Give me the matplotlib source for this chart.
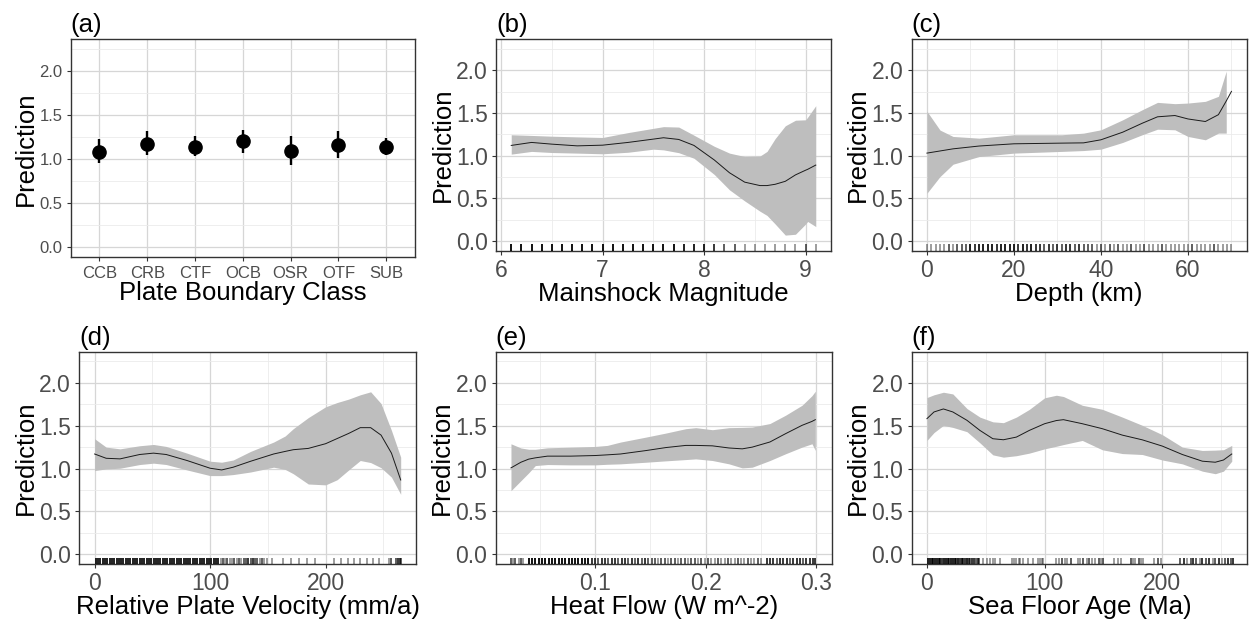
import numpy as np
import matplotlib
matplotlib.use('Agg')
import matplotlib.pyplot as plt

plt.rcParams['font.family'] = ['Liberation Sans', 'DejaVu Sans']

# ---------------- data ----------------
# (a) Plate boundary class
a_cats = ['CCB', 'CRB', 'CTF', 'OCB', 'OSR', 'OTF', 'SUB']
a_mid = [1.085, 1.172, 1.142, 1.206, 1.096, 1.161, 1.142]
a_lo = [0.96, 1.044, 1.036, 1.074, 0.934, 1.01, 1.044]
a_hi = [1.225, 1.32, 1.263, 1.338, 1.263, 1.32, 1.244]

# (b) Mainshock magnitude
b_x = [6.1, 6.3, 6.5, 6.75, 7.0, 7.25, 7.5, 7.6, 7.75, 7.9, 8.1, 8.25, 8.4, 8.55, 8.62, 8.7, 8.8, 8.9, 9.0, 9.02, 9.1]
b_fit = [1.12, 1.155, 1.135, 1.115, 1.123, 1.155, 1.194, 1.21, 1.19, 1.12, 0.95, 0.80, 0.69, 0.65, 0.65, 0.665, 0.70, 0.775, 0.83, 0.84, 0.89]
b_up = [1.245, 1.237, 1.228, 1.22, 1.213, 1.27, 1.32, 1.34, 1.335, 1.24, 1.11, 1.03, 0.99, 0.995, 1.05, 1.20, 1.35, 1.415, 1.42, 1.45, 1.585]
b_lo = [1.018, 1.05, 1.037, 1.03, 1.022, 1.04, 1.076, 1.068, 1.035, 0.97, 0.78, 0.60, 0.47, 0.35, 0.30, 0.20, 0.07, 0.08, 0.20, 0.23, 0.17]
rug_b_vals = [6.1, 6.2, 6.3, 6.4, 6.5, 6.6, 6.7, 6.8, 6.9, 7.0, 7.1, 7.2, 7.3, 7.4, 7.5, 7.6,
              7.7, 7.8, 7.9, 8.0, 8.1, 8.2, 8.3, 8.4, 8.5, 8.6, 8.7, 8.8, 8.9, 9.0, 9.1]
rug_b_counts = [5, 5, 5, 5, 5, 5, 5, 5, 5, 5, 5, 5, 5, 5, 5, 5,
                5, 4, 4, 4, 3, 2, 2, 1, 1, 1, 1, 1, 1, 2, 1]

# (c) Depth
c_x = [0, 3, 6, 12, 20, 31, 36, 40, 45, 49.5, 53, 57, 60, 64, 67, 68.8, 70]
c_fit = [1.03, 1.055, 1.08, 1.113, 1.139, 1.147, 1.15, 1.186, 1.275, 1.38, 1.455, 1.47, 1.43, 1.40, 1.48, 1.64, 1.753]
c_up = [1.52, 1.30, 1.225, 1.205, 1.245, 1.245, 1.264, 1.303, 1.42, 1.538, 1.624, 1.609, 1.616, 1.636, 1.695, 1.99]
c_lo = [0.56, 0.755, 0.90, 0.99, 1.03, 1.05, 1.06, 1.076, 1.155, 1.245, 1.31, 1.303, 1.225, 1.186, 1.264, 1.264]
rug_c_vals = [0, 1, 2, 3, 4, 5, 6, 7, 8, 9, 10, 11, 12, 13, 14, 15, 16, 17, 18, 19, 20,
              21, 22, 23, 24, 25, 26, 27, 28, 29, 30, 31, 32, 33, 34, 35, 36, 37, 38, 39, 40,
              41, 42, 43, 44, 45, 46, 47, 48, 49, 50, 51, 52, 53, 54, 55, 56, 57, 58, 59, 60,
              61, 62, 63, 64, 65, 66, 67, 68, 69, 70]
rug_c_counts = [1, 1, 1, 1, 1, 2, 1, 2, 2, 2, 4, 3, 4, 4, 4, 4, 3, 4, 4, 4, 4,
                3, 4, 3, 4, 3, 3, 2, 3, 2, 3, 2, 3, 3, 2, 3, 2, 2, 2, 1, 2,
                1, 2, 1, 2, 1, 1, 2, 1, 1, 2, 1, 1, 1, 2, 1, 1, 1, 1, 1, 1,
                2, 1, 1, 1, 1, 2, 1, 1, 1, 1]

# (d) Relative plate velocity
d_x = [0, 10, 22, 39, 51, 62, 80, 100, 110, 120, 135, 155, 165, 172, 185, 200, 210, 220, 230, 239, 248, 257, 265]
d_fit = [1.17, 1.12, 1.113, 1.164, 1.18, 1.164, 1.094, 1.004, 0.984, 1.016, 1.085, 1.17, 1.20, 1.22, 1.235, 1.29, 1.35, 1.41, 1.477, 1.477, 1.39, 1.18, 0.867]
d_up = [1.348, 1.25, 1.23, 1.266, 1.281, 1.258, 1.18, 1.086, 1.074, 1.10, 1.20, 1.309, 1.38, 1.465, 1.594, 1.72, 1.77, 1.81, 1.86, 1.895, 1.758, 1.445, 1.133]
d_lo = [0.977, 0.996, 1.004, 1.047, 1.063, 1.047, 0.984, 0.918, 0.918, 0.93, 0.96, 1.016, 0.99, 0.94, 0.82, 0.81, 0.87, 0.984, 1.094, 1.07, 1.01, 0.90, 0.70]
rug_d_vals = [1, 3, 5, 7, 9, 11, 13, 15, 17, 19, 21, 23, 25, 27, 29, 31, 33, 35, 37, 39,
              41, 43, 45, 47, 49, 51, 53, 55, 57, 59, 61, 63, 65, 67, 69, 71, 73, 75, 77, 79,
              81, 83, 85, 87, 89, 91, 93, 95, 97, 99, 101, 103, 105, 107,
              109, 111, 113, 115, 117, 119, 121, 123, 125, 127, 129, 131, 133, 135, 137, 139,
              141, 143, 145, 147, 149,
              154, 163, 170, 177, 184, 191, 207, 213, 219, 225, 230, 236, 241, 246,
              255, 257, 261, 263, 264, 265]
rug_d_counts = [4, 4, 4, 4, 4, 4, 4, 4, 4, 4, 4, 4, 4, 4, 4, 4, 4, 4, 4, 4,
                4, 4, 4, 4, 4, 4, 4, 4, 4, 4, 4, 4, 4, 4, 4, 4, 4, 4, 4, 4,
                4, 4, 4, 4, 4, 4, 4, 4, 4, 4, 4, 4, 4, 4,
                1, 2, 1, 2, 1, 1, 2, 1, 2, 1, 2, 2, 3, 2, 3, 2,
                2, 1, 2, 1, 1,
                1, 1, 1, 1, 1, 1, 1, 1, 1, 1, 1, 1, 1, 1,
                1, 2, 2, 3, 3, 2]

# (e) Heat flow
e_x = [0.024, 0.033, 0.040, 0.046, 0.057, 0.078, 0.100, 0.111, 0.123, 0.146, 0.164, 0.182, 0.191, 0.206, 0.221, 0.233, 0.242, 0.258, 0.272, 0.287, 0.296, 0.299]
e_fit = [1.008, 1.074, 1.11, 1.125, 1.145, 1.145, 1.152, 1.16, 1.17, 1.21, 1.245, 1.27, 1.27, 1.265, 1.24, 1.23, 1.25, 1.31, 1.406, 1.504, 1.55, 1.57]
e_up = [1.289, 1.24, 1.225, 1.225, 1.242, 1.25, 1.258, 1.27, 1.309, 1.367, 1.414, 1.465, 1.477, 1.453, 1.477, 1.48, 1.484, 1.525, 1.621, 1.738, 1.85, 1.902]
e_lo = [0.742, 0.859, 0.95, 1.035, 1.047, 1.043, 1.043, 1.05, 1.055, 1.074, 1.09, 1.105, 1.113, 1.094, 1.055, 1.008, 1.016, 1.094, 1.172, 1.25, 1.289, 1.211]
rug_e_vals = [0.024, 0.026, 0.028, 0.031, 0.033, 0.035,
              0.040, 0.043, 0.046, 0.049, 0.052, 0.055, 0.058, 0.061, 0.064, 0.067, 0.070,
              0.073, 0.076, 0.079, 0.082, 0.085, 0.088, 0.091, 0.094,
              0.097, 0.100, 0.103, 0.106, 0.109, 0.112, 0.115, 0.118, 0.121, 0.124, 0.127,
              0.130, 0.133, 0.136, 0.139, 0.142, 0.145, 0.148,
              0.151, 0.154, 0.157, 0.160, 0.163, 0.166, 0.169, 0.172, 0.175, 0.178, 0.181,
              0.184, 0.187, 0.190, 0.193, 0.196,
              0.199, 0.202, 0.205, 0.208, 0.211, 0.214, 0.217, 0.220, 0.223, 0.226, 0.229,
              0.232, 0.235, 0.238, 0.241, 0.244, 0.247, 0.250,
              0.255, 0.258, 0.261, 0.264, 0.267, 0.270, 0.273, 0.276, 0.279, 0.282, 0.285,
              0.288, 0.291, 0.294, 0.297, 0.299]
rug_e_counts = [2, 1, 2, 1, 2, 1,
                5, 5, 5, 5, 5, 5, 5, 5, 5, 5, 5,
                5, 5, 5, 5, 5, 5, 5, 5,
                3, 3, 2, 3, 3, 2, 3, 3, 2, 3, 3,
                2, 3, 2, 3, 2, 3, 2,
                2, 2, 1, 2, 2, 1, 2, 2, 1, 2, 2,
                1, 2, 2, 1, 2,
                1, 2, 1, 1, 2, 1, 1, 2, 1, 1, 2,
                1, 1, 2, 1, 1, 2, 1,
                3, 3, 3, 2, 3, 3, 3, 2, 3, 3, 3,
                2, 3, 3, 3, 3]

# (f) Sea floor age
f_x = [0, 6, 14, 22, 34, 45, 56, 65, 76, 87, 100, 110, 116, 132, 149, 166, 183, 200, 217, 234, 245, 252, 259]
f_fit = [1.582, 1.66, 1.695, 1.66, 1.5625, 1.445, 1.348, 1.336, 1.367, 1.445, 1.523, 1.56, 1.57, 1.523, 1.465, 1.39, 1.335, 1.262, 1.164, 1.086, 1.074, 1.10, 1.17]
f_up = [1.828, 1.86, 1.89, 1.87, 1.70, 1.60, 1.545, 1.535, 1.60, 1.69, 1.825, 1.855, 1.84, 1.738, 1.691, 1.60, 1.504, 1.395, 1.25, 1.211, 1.215, 1.22, 1.27]
f_lo = [1.328, 1.42, 1.504, 1.48, 1.43, 1.30, 1.16, 1.133, 1.15, 1.18, 1.23, 1.26, 1.28, 1.328, 1.219, 1.175, 1.164, 1.10, 1.055, 0.97, 0.94, 0.97, 1.086]
rug_f_vals = [1, 2.5, 4, 5.5, 7, 8.5, 10, 11.5, 13, 14.5, 16, 17.5, 19, 20.5, 22, 23.5,
              25, 26.5, 28, 29.5, 31, 32.5, 34, 35.5, 37, 38.5, 40, 41.5, 43, 44.5,
              48, 51, 53.5, 56, 58, 62, 72, 74, 76, 78, 79, 82, 86, 90, 94, 96, 98, 99,
              110, 112, 115, 117, 119, 122, 128, 130, 133, 136, 138, 140, 143, 146, 148, 150,
              159, 162, 165, 173, 175, 177, 180, 182, 184, 193, 196, 199,
              215, 218, 221, 224, 226, 229, 232, 234, 237, 240, 243, 245, 248, 251, 253, 256, 258, 260]
rug_f_counts = [4, 4, 4, 4, 4, 4, 4, 4, 3, 4, 4, 4, 3, 4, 4, 4,
                3, 4, 3, 4, 3, 3, 4, 3, 2, 3, 3, 2, 3, 2,
                1, 1, 1, 1, 1, 1, 1, 1, 1, 1, 1, 1, 1, 1, 1, 1, 1, 1,
                1, 1, 2, 1, 1, 2, 1, 1, 2, 1, 2, 1, 1, 2, 1, 2,
                1, 1, 1, 2, 1, 1, 2, 1, 1, 1, 2, 1,
                2, 3, 1, 2, 3, 2, 1, 3, 2, 3, 1, 2, 3, 1, 2, 3, 2, 3]

y_major = [0.0, 0.5, 1.0, 1.5, 2.0]
y_minor = [0.25, 0.75, 1.25, 1.75, 2.25]
y_labels = ['0.0', '0.5', '1.0', '1.5', '2.0']

# ---------------- layout ----------------
W, H = 1249, 624
fig = plt.figure(figsize=(W / 100, H / 100), dpi=100)
fig.patch.set_facecolor('white')

TITLE_FS = 18.5
LABEL_FS = 18.5
BAND = '#BEBEBE'
LINE = '#1A1A1A'


def add_ax(l, t, r, b):
    return fig.add_axes([l / W, 1 - b / H, (r - l) / W, (b - t) / H])


def style(ax, title, xlabel, xmaj, xlabs, xmin, xlim, tick_fs):
    ax.set_ylim(-0.1125, 2.3625)
    ax.set_xlim(*xlim)
    ax.set_yticks(y_major)
    ax.set_yticklabels(y_labels)
    ax.set_yticks(y_minor, minor=True)
    ax.set_xticks(xmaj)
    ax.set_xticklabels(xlabs)
    ax.set_xticks(xmin, minor=True)
    ax.grid(which='major', color='#D6D6D6', lw=0.9)
    ax.grid(which='minor', color='#EBEBEB', lw=0.6)
    ax.set_axisbelow(True)
    ax.tick_params(which='major', length=3.0, width=0.8, color='#333333',
                   labelcolor='#4D4D4D', labelsize=tick_fs, pad=3)
    ax.tick_params(which='minor', length=0)
    for s in ax.spines.values():
        s.set_color('#333333')
        s.set_linewidth(1.0)
    ax.set_ylabel('Prediction', fontsize=LABEL_FS, labelpad=1, color='black')
    ax.set_xlabel(xlabel, fontsize=LABEL_FS, labelpad=0, color='black')
    ax.set_title(title, loc='left', fontsize=TITLE_FS, pad=5, color='black')


def smooth_panel(ax, x, fit, up, lo, rv, rc):
    n = len(up)
    ax.fill_between(x[:n], lo, up, color=BAND, lw=0, zorder=1)
    ax.plot(x, fit, color=LINE, lw=0.7, zorder=2)
    rx = np.repeat(rv, rc)
    ax.vlines(rx, 0, 0.03, transform=ax.get_xaxis_transform(),
              colors='black', alpha=0.45, lw=1.2, zorder=3)


# (a)
ax = add_ax(70.7, 39.3, 415, 257.3)
pos = np.arange(1, len(a_cats) + 1)
ax.vlines(pos, a_lo, a_hi, color='black', lw=1.7, zorder=3)
ax.plot(pos, a_mid, 'o', color='black', ms=9.5, zorder=4)
style(ax, '(a)', 'Plate Boundary Class', list(pos), a_cats, [], (0.4, 7.6), 12)

# (b)
ax = add_ax(496, 39.3, 831, 250.7)
smooth_panel(ax, b_x, b_fit, b_up, b_lo, rug_b_vals, rug_b_counts)
style(ax, '(b)', 'Mainshock Magnitude', [6, 7, 8, 9], ['6', '7', '8', '9'],
      [6.5, 7.5, 8.5], (5.95, 9.25), 16.5)

# (c)
ax = add_ax(911.7, 39.3, 1246.7, 250.7)
smooth_panel(ax, c_x, c_fit, c_up, c_lo, rug_c_vals, rug_c_counts)
style(ax, '(c)', 'Depth (km)', [0, 20, 40, 60], ['0', '20', '40', '60'],
      [10, 30, 50, 70], (-3.5, 73.5), 16.5)

# (d)
ax = add_ax(79.3, 351.7, 416, 564)
smooth_panel(ax, d_x, d_fit, d_up, d_lo, rug_d_vals, rug_d_counts)
style(ax, '(d)', 'Relative Plate Velocity (mm/a)', [0, 100, 200], ['0', '100', '200'],
      [50, 150, 250], (-13.25, 278.25), 16.5)

# (e)
ax = add_ax(495.7, 351.7, 831.7, 564)
smooth_panel(ax, e_x, e_fit, e_up, e_lo, rug_e_vals, rug_e_counts)
style(ax, '(e)', 'Heat Flow (W m^-2)', [0.1, 0.2, 0.3], ['0.1', '0.2', '0.3'],
      [0.05, 0.15, 0.25], (0.0102, 0.3138), 16.5)

# (f)
ax = add_ax(911.7, 351.7, 1247, 564)
smooth_panel(ax, f_x, f_fit, f_up, f_lo, rug_f_vals, rug_f_counts)
style(ax, '(f)', 'Sea Floor Age (Ma)', [0, 100, 200], ['0', '100', '200'],
      [50, 150, 250], (-12.95, 271.95), 16.5)

fig.savefig('out.png', dpi=100, facecolor='white')
